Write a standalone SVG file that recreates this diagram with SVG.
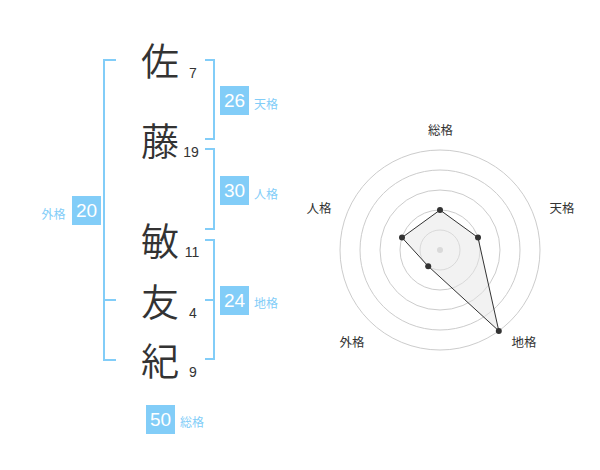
<svg xmlns="http://www.w3.org/2000/svg" width="600" height="470" viewBox="0 0 600 470">
<style>
.kanji{font-family:"Noto Sans CJK JP","Noto Sans CJK SC",sans-serif;font-size:38px;font-weight:350;fill:#333;text-anchor:middle}
.num{font-family:"Liberation Sans","Noto Sans CJK JP",sans-serif;font-size:14px;fill:#333;text-anchor:middle}
.br{fill:none;stroke:#82cdf8;stroke-width:2}
.box{fill:#82cdf8}
.bv{font-family:"Liberation Sans","Noto Sans CJK JP",sans-serif;font-size:19px;fill:#fff;text-anchor:middle}
.bl{font-family:"Noto Sans CJK JP",sans-serif;font-size:12px;fill:#82cdf8}
.ring{fill:none;stroke:#cccccc;stroke-width:1}
.rl{font-family:"Noto Sans CJK JP",sans-serif;font-size:12.5px;fill:#333;text-anchor:middle}
.dot{fill:#333}
</style>
<rect width="600" height="470" fill="#fff"/>
<g id="name">
<g id="c1"><text class="kanji" x="160" y="75">佐</text><text class="num" x="193" y="78">7</text></g>
<g id="c2"><text class="kanji" x="160" y="155">藤</text><text class="num" x="191" y="157">19</text></g>
<g id="c3"><text class="kanji" x="160" y="254.5">敏</text><text class="num" x="192" y="257">11</text></g>
<g id="c4"><text class="kanji" x="160" y="315.5">友</text><text class="num" x="193" y="318">4</text></g>
<g id="c5"><text class="kanji" x="160" y="374.5">紀</text><text class="num" x="193" y="377">9</text></g>
</g>
<g id="connectors">
<path class="br" d="M116 60H104V360H116M104 300H116"/>
<path class="br" d="M205 60H214V139H205"/>
<path class="br" d="M205 149H214V229H205"/>
<path class="br" d="M205 240H214V359H205M205 300H214"/>
</g>
<g id="tenkaku"><rect class="box" x="220" y="86" width="29" height="29"/><text class="bv" x="234.5" y="107">26</text><text class="bl" x="254" y="108.5">天格</text></g>
<g id="jinkaku"><rect class="box" x="220" y="176" width="29" height="29"/><text class="bv" x="234.5" y="197">30</text><text class="bl" x="254" y="198.5">人格</text></g>
<g id="chikaku"><rect class="box" x="220" y="286" width="29" height="29"/><text class="bv" x="234.5" y="307">24</text><text class="bl" x="254" y="307.5">地格</text></g>
<g id="gaikaku"><rect class="box" x="72" y="196" width="29" height="29"/><text class="bv" x="86.5" y="217">20</text><text class="bl" x="41.5" y="218.5">外格</text></g>
<g id="soukaku"><rect class="box" x="146" y="405" width="29" height="29"/><text class="bv" x="160.5" y="426">50</text><text class="bl" x="180" y="427">総格</text></g>
<g id="radar">
<circle class="ring" cx="440" cy="250" r="20"/>
<circle class="ring" cx="440" cy="250" r="40"/>
<circle class="ring" cx="440" cy="250" r="60"/>
<circle class="ring" cx="440" cy="250" r="80"/>
<circle class="ring" cx="440" cy="250" r="100"/>
<circle cx="440" cy="250" r="3" fill="#cccccc"/>
<polygon points="440,210 478,237.6 498.8,330.9 428.2,266.2 402,237.6" fill="#e6e6e6" fill-opacity="0.5" stroke="#333" stroke-width="1"/>
<circle class="dot" cx="440" cy="210" r="3"/>
<circle class="dot" cx="478" cy="237.6" r="3"/>
<circle class="dot" cx="498.8" cy="330.9" r="3"/>
<circle class="dot" cx="428.2" cy="266.2" r="3"/>
<circle class="dot" cx="402" cy="237.6" r="3"/>
<text class="rl" x="440.5" y="135">総格</text>
<text class="rl" x="562" y="213">天格</text>
<text class="rl" x="319" y="213">人格</text>
<text class="rl" x="352" y="347">外格</text>
<text class="rl" x="524" y="347">地格</text>
</g>
</svg>
